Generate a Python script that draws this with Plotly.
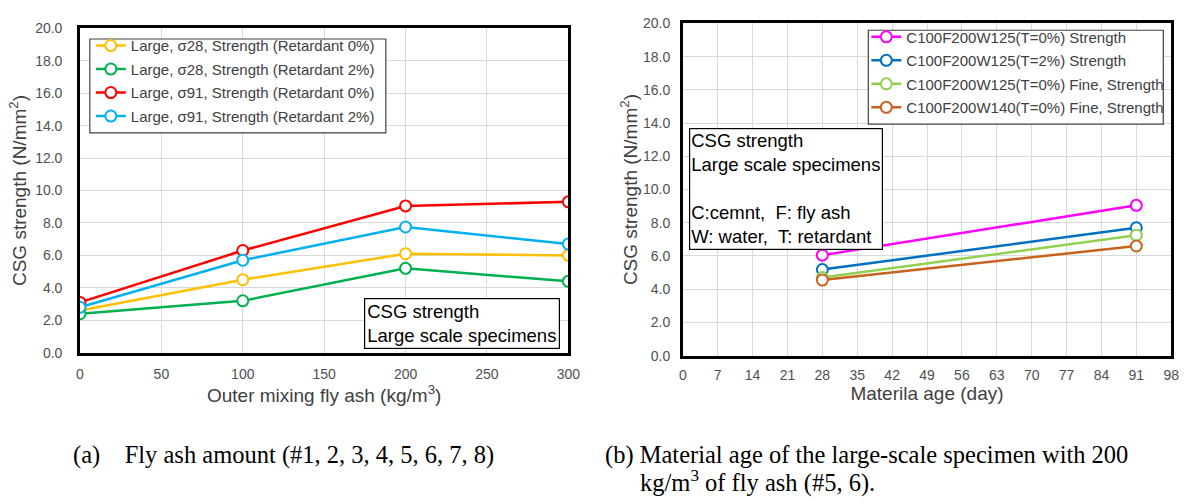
import plotly.graph_objects as go

# ---- data ----
fly_ash = [0, 100, 200, 300]
s28_r0 = [2.6, 4.5, 6.1, 6.0]
s28_r2 = [2.4, 3.2, 5.2, 4.4]
s91_r0 = [3.1, 6.3, 9.05, 9.3]
s91_r2 = [2.8, 5.7, 7.75, 6.7]

age = [28, 91]
w125_t0 = [6.05, 9.05]
w125_t2 = [5.18, 7.7]
w125_t0_fine = [4.7, 7.25]
w140_t0_fine = [4.55, 6.6]

left_names = ["Large, σ28, Strength (Retardant 0%)",
              "Large, σ28, Strength (Retardant 2%)",
              "Large, σ91, Strength (Retardant 0%)",
              "Large, σ91, Strength (Retardant 2%)"]
right_names = ["C100F200W125(T=0%) Strength",
               "C100F200W125(T=2%) Strength",
               "C100F200W125(T=0%) Fine, Strength",
               "C100F200W140(T=0%) Fine, Strength"]
left_colors = ["#FFC000", "#00B050", "#FF0000", "#00B0F0"]
right_colors = ["#FF00FF", "#0070C0", "#92D050", "#C8621E"]

W, H = 1198, 504
FONT = "Liberation Sans, Arial, sans-serif"

fig = go.Figure()

for i, (ys, nm, c) in enumerate(zip([s28_r0, s28_r2, s91_r0, s91_r2], left_names, left_colors)):
    fig.add_trace(go.Scatter(
        x=fly_ash, y=ys, name=nm, mode="lines+markers",
        line=dict(color=c, width=2.5),
        marker=dict(symbol="circle", size=11, color="white", line=dict(color=c, width=2)),
        xaxis="x", yaxis="y", legend="legend", legendgroup="L%d" % i))

for i, (ys, nm, c) in enumerate(zip([w125_t0, w125_t2, w125_t0_fine, w140_t0_fine], right_names, right_colors)):
    fig.add_trace(go.Scatter(
        x=age, y=ys, name=nm, mode="lines+markers",
        line=dict(color=c, width=2.5),
        marker=dict(symbol="circle", size=11, color="white", line=dict(color=c, width=2)),
        xaxis="x2", yaxis="y2", legend="legend2", legendgroup="R%d" % i))

def px_x(p):
    return p / W

def px_y(p):
    return 1 - p / H

axis_common = dict(
    showgrid=True, gridcolor="#D9D9D9", gridwidth=1,
    showline=True, linecolor="black", linewidth=2.5, mirror=True,
    zeroline=False, ticks="",
    tickfont=dict(family=FONT, size=14, color="#505050"),
)
TITLE_FONT = dict(family=FONT, size=19, color="#404040")

fig.update_layout(
    width=W, height=H, autosize=False,
    margin=dict(l=0, r=0, t=0, b=0),
    paper_bgcolor="white", plot_bgcolor="white",
    font=dict(family=FONT, color="#404040"),
    xaxis=dict(domain=[px_x(77), px_x(572)], range=[0, 300], dtick=50, tick0=0,
               ticklabelstandoff=7,
               title=dict(text="Outer mixing fly ash (kg/m<sup>3</sup>)", font=TITLE_FONT, standoff=7),
               anchor="y", **axis_common),
    yaxis=dict(domain=[px_y(356), px_y(21)], range=[0, 20], dtick=2, tick0=0, tickformat=".1f",
               ticklabelstandoff=12,
               title=dict(text="CSG strength (N/mm<sup>2</sup>)", font=TITLE_FONT, standoff=4),
               anchor="x", **axis_common),
    xaxis2=dict(domain=[px_x(688), px_x(1183)], range=[0, 98], dtick=7, tick0=0,
                ticklabelstandoff=5,
                title=dict(text="Materila age (day)", font=TITLE_FONT, standoff=4),
                anchor="y2", **axis_common),
    yaxis2=dict(domain=[px_y(359), px_y(16)], range=[0, 20], dtick=2, tick0=0, tickformat=".1f",
                ticklabelstandoff=7,
                title=dict(text="CSG strength (N/mm<sup>2</sup>)", font=TITLE_FONT, standoff=1),
                anchor="x2", **axis_common),
    legend=dict(x=px_x(88), y=px_y(22), xanchor="left", yanchor="top",
                bgcolor="rgba(0,0,0,0)", borderwidth=0,
                font=dict(family=FONT, size=15, color="#404040"),
                tracegroupgap=1, itemwidth=30),
    legend2=dict(x=px_x(874), y=px_y(13), xanchor="left", yanchor="top",
                 bgcolor="rgba(0,0,0,0)", borderwidth=0,
                 font=dict(family=FONT, size=15, color="#404040"),
                 tracegroupgap=1, itemwidth=30),
    showlegend=True,
)

# legend frames (white boxes behind the legends)
fig.add_shape(type="rect", xref="paper", yref="paper",
              x0=px_x(87), x1=px_x(387), y0=px_y(129), y1=px_y(32),
              line=dict(color="#404040", width=1.2), fillcolor="white", layer="above")
fig.add_shape(type="rect", xref="paper", yref="paper",
              x0=px_x(876), x1=px_x(1175), y0=px_y(120), y1=px_y(23),
              line=dict(color="#404040", width=1.2), fillcolor="white", layer="above")

fig.add_annotation(
    xref="x domain", yref="y domain", x=(564 - 77) / 495, y=(356 - 352) / 335,
    xanchor="right", yanchor="bottom", align="left",
    text="CSG strength<br>Large scale specimens", showarrow=False,
    font=dict(family=FONT, size=18.5, color="black"),
    bgcolor="white", bordercolor="black", borderwidth=1.2, borderpad=2)

fig.add_annotation(
    xref="x2 domain", yref="y2 domain", x=(694 - 688) / 495, y=(359 - 124) / 343,
    xanchor="left", yanchor="top", align="left",
    text="CSG strength<br>Large scale specimens<br><br>C:cemnt,&nbsp; F: fly ash<br>W: water,&nbsp; T: retardant",
    showarrow=False,
    font=dict(family=FONT, size=18.5, color="black"),
    bgcolor="white", bordercolor="black", borderwidth=1.2, borderpad=1)

SERIF = "Liberation Serif, Times New Roman, serif"
fig.add_annotation(
    xref="paper", yref="paper", x=px_x(68), y=px_y(462), xanchor="left", yanchor="middle",
    text="(a)&nbsp;&nbsp;&nbsp; Fly ash amount (#1, 2, 3, 4, 5, 6, 7, 8)", showarrow=False,
    font=dict(family=SERIF, size=24.5, color="black"))
fig.add_annotation(
    xref="paper", yref="paper", x=px_x(607), y=px_y(462), xanchor="left", yanchor="middle",
    text="(b) Material age of the large-scale specimen with 200", showarrow=False,
    font=dict(family=SERIF, size=24.5, color="black"))
fig.add_annotation(
    xref="paper", yref="paper", x=px_x(643), y=px_y(489), xanchor="left", yanchor="middle",
    text="kg/m<sup>3</sup> of fly ash (#5, 6).", showarrow=False,
    font=dict(family=SERIF, size=24.5, color="black"))

fig.write_html("out.html")
